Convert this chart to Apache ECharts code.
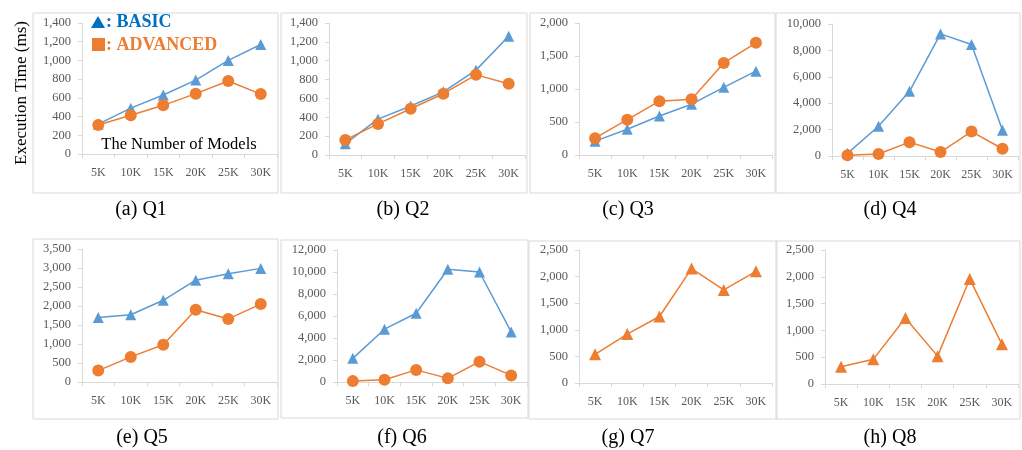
<!DOCTYPE html>
<html>
<head>
<meta charset="utf-8">
<script src="https://cdn.jsdelivr.net/npm/echarts@6/dist/echarts.min.js"></script>
<style>html,body{margin:0;padding:0;background:#fff;}#c{width:1022px;height:450px;}</style>
</head>
<body>
<div id="c"></div>
<script>
const categories = ['5K', '10K', '15K', '20K', '25K', '30K'];
const titles = ['(a) Q1', '(b) Q2', '(c) Q3', '(d) Q4', '(e) Q5', '(f) Q6', '(g) Q7', '(h) Q8'];
const yMax = [1400, 1400, 2000, 10000, 3500, 12000, 2500, 2500];
const yStep = [200, 200, 500, 2000, 500, 2000, 500, 500];

const basicQ1 = [320, 490, 630, 790, 1000, 1170];
const advancedQ1 = [310, 415, 520, 645, 780, 640];
const basicQ2 = [120, 380, 520, 670, 900, 1260];
const advancedQ2 = [160, 330, 490, 650, 850, 755];
const basicQ3 = [210, 390, 590, 770, 1025, 1270];
const advancedQ3 = [255, 535, 815, 845, 1395, 1700];
const basicQ4 = [200, 2250, 4900, 9250, 8450, 1950];
const advancedQ4 = [50, 150, 1050, 300, 1850, 550];
const basicQ5 = [1700, 1770, 2150, 2680, 2850, 2990];
const advancedQ5 = [300, 660, 980, 1900, 1660, 2050];
const basicQ6 = [2150, 4800, 6250, 10250, 10000, 4550];
const advancedQ6 = [80, 200, 1100, 330, 1850, 600];
const singleQ7 = [540, 920, 1250, 2150, 1750, 2100];
const singleQ8 = [320, 460, 1230, 520, 1960, 740];

const basicSeries = [basicQ1, basicQ2, basicQ3, basicQ4, basicQ5, basicQ6, null, null];
const advancedSeries = [advancedQ1, advancedQ2, advancedQ3, advancedQ4, advancedQ5, advancedQ6, null, null];
const triangleOrangeSeries = [null, null, null, null, null, null, singleQ7, singleQ8];

// layout (positions only)
const grids = [
  {left: 82, top: 23, width: 195, height: 131},
  {left: 329, top: 23, width: 196, height: 132},
  {left: 579, top: 23, width: 193, height: 132},
  {left: 832, top: 24, width: 186, height: 132},
  {left: 82, top: 249, width: 195, height: 133},
  {left: 337, top: 250, width: 190, height: 132},
  {left: 579, top: 250, width: 193, height: 133},
  {left: 825, top: 250, width: 193, height: 134}
];
const boxes = [
  [33, 13, 245, 180], [281, 13, 246, 180], [530, 13, 245, 180], [776, 13, 244, 180],
  [33, 239, 245, 180], [281, 240, 247, 178], [529, 241, 248, 178], [776, 241, 244, 178]
];
const captionPos = [[141, 210], [403, 210], [628, 210], [890, 210], [142, 438], [402, 438], [628, 438], [890, 438]];

const FONT = '"Liberation Serif", "Times New Roman", serif';
const BLUE = '#5B9BD5';
const ORANGE = '#ED7D31';

const xAxis = [], yAxis = [], series = [], graphic = [];
grids.forEach((g, i) => {
  xAxis.push({
    type: 'category', gridIndex: i, data: categories, boundaryGap: true,
    axisLine: {lineStyle: {color: '#d9d9d9', width: 1}},
    axisTick: {show: true, length: 4, lineStyle: {color: '#d9d9d9'}},
    axisLabel: {color: '#595959', fontFamily: FONT, fontSize: 12, margin: 13},
    splitLine: {show: false}
  });
  yAxis.push({
    type: 'value', gridIndex: i, min: 0, max: yMax[i], interval: yStep[i],
    axisLine: {show: true, lineStyle: {color: '#d9d9d9', width: 1}},
    axisTick: {show: true, length: 4, lineStyle: {color: '#d9d9d9'}},
    axisLabel: {color: '#595959', fontFamily: FONT, fontSize: 12.5, margin: 11,
      formatter: v => v.toLocaleString('en-US')},
    splitLine: {show: false}
  });
  if (basicSeries[i]) {
    series.push({type: 'line', name: 'BASIC', xAxisIndex: i, yAxisIndex: i, data: basicSeries[i],
      symbol: 'triangle', symbolSize: 11, lineStyle: {color: BLUE, width: 1.5},
      itemStyle: {color: BLUE}, animation: false});
  }
  if (advancedSeries[i]) {
    series.push({type: 'line', name: 'ADVANCED', xAxisIndex: i, yAxisIndex: i, data: advancedSeries[i],
      symbol: 'circle', symbolSize: 12, lineStyle: {color: ORANGE, width: 1.5},
      itemStyle: {color: ORANGE}, animation: false});
  }
  if (triangleOrangeSeries[i]) {
    series.push({type: 'line', name: 'Q', xAxisIndex: i, yAxisIndex: i, data: triangleOrangeSeries[i],
      symbol: 'triangle', symbolSize: 12, lineStyle: {color: ORANGE, width: 1.5},
      itemStyle: {color: ORANGE}, animation: false});
  }
  const b = boxes[i];
  graphic.push({type: 'rect', shape: {x: b[0], y: b[1], width: b[2], height: b[3]},
    style: {fill: 'none', stroke: '#d9d9d9', lineWidth: 1}, z: -1, silent: true});
  graphic.push({type: 'text', x: captionPos[i][0], y: captionPos[i][1],
    style: {text: titles[i], font: '20px ' + FONT, fill: '#000', textAlign: 'center', textVerticalAlign: 'middle'}});
});

graphic.push({type: 'text', x: 22, y: 93, rotation: Math.PI / 2,
  style: {text: 'Execution Time (ms)', font: '17px ' + FONT, fill: '#000', textAlign: 'center', textVerticalAlign: 'middle'}});
graphic.push({type: 'text', x: 179, y: 145,
  style: {text: 'The Number of Models', font: '16.5px ' + FONT, fill: '#000', textAlign: 'center', textVerticalAlign: 'middle'}});
// legend glyphs
graphic.push({type: 'polygon', shape: {points: [[98, 16], [105, 28], [91, 28]]}, style: {fill: '#0070C0'}});
graphic.push({type: 'rect', shape: {x: 92, y: 38, width: 13, height: 13}, style: {fill: '#ED7D31'}});
graphic.push({type: 'text', x: 106, y: 22,
  style: {text: ': BASIC', font: 'bold 18px ' + FONT, fill: '#0070C0', textAlign: 'left', textVerticalAlign: 'middle'}});
graphic.push({type: 'text', x: 106, y: 45,
  style: {text: ': ADVANCED', font: 'bold 18px ' + FONT, fill: '#ED7D31', textAlign: 'left', textVerticalAlign: 'middle'}});

const chart = echarts.init(document.getElementById('c'), null, {renderer: 'canvas'});
chart.setOption({
  backgroundColor: '#fff',
  animation: false,
  grid: grids.map(g => Object.assign({containLabel: false}, g)),
  xAxis, yAxis, series, graphic
});
</script>
</body>
</html>
